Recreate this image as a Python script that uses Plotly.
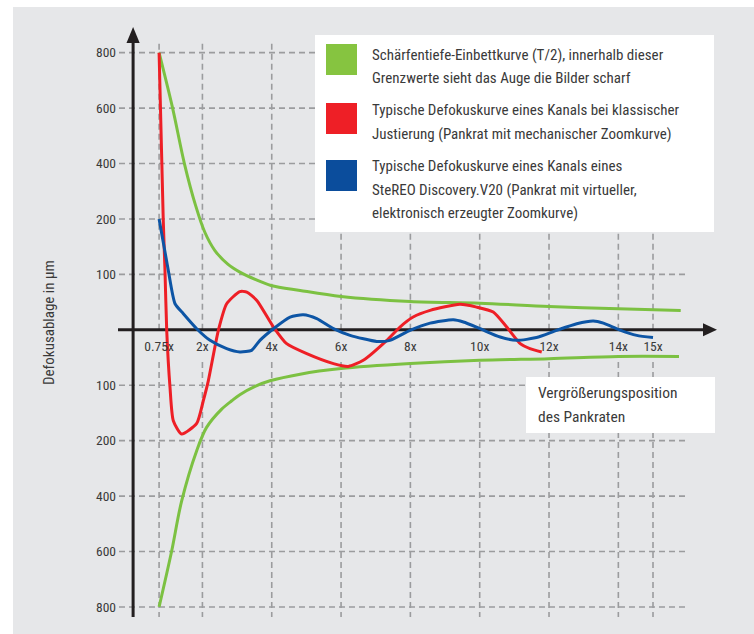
import numpy as np
import plotly.graph_objects as go

# ---- data -----------------------------------------------------------------
# magnification positions of the zoom body
x_ticks = [0.75, 2, 4, 6, 8, 10, 12, 14, 15]
x_tick_text = ["0.75x", "2x", "4x", "6x", "8x", "10x", "12x", "14x", "15x"]

# defocus tick values in µm (stepped scale, equal spacing between steps)
y_tick_um = [800, 600, 400, 200, 100, -100, -200, -400, -600, -800]
y_tick_text = [str(abs(v)) for v in y_tick_um]
y_steps_um = [0, 100, 200, 400, 600, 800]

# depth-of-field envelope (T/2), upper and lower branch
x_dof_upper = [0.75, 1.14, 1.48, 1.80, 2.07, 2.36, 2.74, 3.08, 3.52, 3.98, 4.82, 6.0, 8.0, 10.0, 12.0, 14.0, 15.8]
dof_upper = [800, 600, 400, 250, 176, 143, 118, 104, 91, 80, 71, 60, 51, 48, 42, 38, 35]
x_dof_lower = [0.75, 1.11, 1.40, 1.835, 2.12, 2.556, 2.846, 3.08, 3.52, 3.95, 4.82, 6.0, 8.0, 10.0, 12.0, 14.0, 15.75]
dof_lower = [-800, -600, -418, -236, -176, -143, -128, -117, -102, -92, -80, -70, -61, -55, -52, -48, -48]

# classic adjustment (mechanical zoom curve)
x_classic = [0.75, 0.87, 0.92, 0.97, 1.065, 1.16, 1.40, 1.835, 2.025, 2.17, 2.46, 2.70, 3.08, 3.28,
             3.57, 4.05, 4.43, 5.01, 5.78, 6.21, 6.64, 7.32, 7.70, 8.08, 8.57, 9.43, 9.91, 10.39,
             10.78, 11.17, 11.45, 11.79]
defocus_classic = [800, 198, 107, -1, -104, -164, -188, -169, -128, -92, -1, 47, 69, 68,
                   53, 5, -25, -43, -61, -66, -55, -19, 5, 23, 35, 46, 41, 32,
                   5, -25, -34, -40]

# SteREO Discovery.V20 (virtual, electronically generated zoom curve)
x_v20 = [0.75, 1.016, 1.21, 1.45, 1.835, 2.22, 2.70, 3.08, 3.42, 3.66, 4.05, 4.53, 4.91, 5.30,
         5.78, 6.26, 7.03, 7.41, 7.99, 8.57, 9.24, 9.53, 10.01, 10.59, 11.07, 11.64, 12.22,
         12.80, 13.28, 13.57, 14.03, 14.53, 15.0]
defocus_v20 = [200, 107, 47, 29, 2, -19, -34, -40, -37, -19, 2, 23, 27, 20,
               2, -10, -21, -19, -1, 12, 18, 14, 2, -13, -19, -14, -1,
               11, 16, 12, 0, -10, -14]

legend_entries = [
    ("#86c440", ["Schärfentiefe-Einbettkurve (T/2), innerhalb dieser",
                 "Grenzwerte sieht das Auge die Bilder scharf"]),
    ("#ee1f26", ["Typische Defokuskurve eines Kanals bei klassischer",
                 "Justierung (Pankrat mit mechanischer Zoomkurve)"]),
    ("#0b4d9c", ["Typische Defokuskurve eines Kanals eines",
                 "SteREO Discovery.V20 (Pankrat mit virtueller,",
                 "elektronisch erzeugter Zoomkurve)"]),
]

# ---- layout geometry --------------------------------------------------------
W, H = 754, 634
ML, MT = 13, 7
X_RANGE = [-3.465, 17.914]
Y_RANGE = [-5.488, 5.824]
BG = "#e6e7e9"
TXT = "#3a3a3a"
GRID = "#9b9c9e"
AXIS = "#231f20"
FONT = "Liberation Sans Narrow, Roboto Condensed, DejaVu Sans Condensed, Arial Narrow, sans-serif"


def to_axis(v):
    """Map µm onto the stepped defocus scale."""
    v = np.asarray(v, float)
    return np.sign(v) * np.interp(np.abs(v), y_steps_um, np.arange(len(y_steps_um)))


def px_x(px):
    return (px - ML) / (W - ML)


def px_y(py):
    return (H - py) / (H - MT)


def dx_px(px):
    return X_RANGE[0] + px_x(px) * (X_RANGE[1] - X_RANGE[0])


def dy_px(py):
    return Y_RANGE[0] + px_y(py) * (Y_RANGE[1] - Y_RANGE[0])


fig = go.Figure()

series = [
    (x_dof_upper, dof_upper, "#7cc142", 0.9),
    (x_dof_lower, dof_lower, "#7cc142", 0.9),
    (x_classic, defocus_classic, "#ee1f26", 0.6),
    (x_v20, defocus_v20, "#0d55a5", 0.6),
]
for xs, ys, col, sm in series:
    fig.add_trace(go.Scatter(
        x=xs, y=to_axis(ys), mode="lines",
        line=dict(color=col, width=3, shape="spline", smoothing=sm),
        showlegend=False, hoverinfo="skip"))

shapes = []
dash = dict(color=GRID, width=1.6, dash="6px,4px")

# vertical grid (interrupted under the magnification labels)
y_top_grid = dy_px(40)
y_gap = dy_px(362)
y_bot = dy_px(617)
for xv in x_ticks:
    shapes.append(dict(type="line", xref="x", yref="y", x0=xv, x1=xv, y0=0, y1=y_top_grid,
                       line=dash, layer="below"))
    shapes.append(dict(type="line", xref="x", yref="y", x0=xv, x1=xv, y0=y_gap, y1=y_bot,
                       line=dash, layer="below"))
# horizontal grid
for v in y_tick_um:
    k = float(to_axis(v))
    shapes.append(dict(type="line", xref="x", yref="y", x0=dx_px(119), x1=dx_px(686), y0=k, y1=k,
                       line=dash, layer="below"))

# white boxes for legend and axis caption (same layer as the grid, drawn after it)
shapes.append(dict(type="rect", xref="x", yref="y", x0=dx_px(315), x1=dx_px(714),
                   y0=dy_px(232), y1=dy_px(35), fillcolor="white", line=dict(width=0), layer="below"))
shapes.append(dict(type="rect", xref="x", yref="y", x0=dx_px(526), x1=dx_px(715),
                   y0=dy_px(433), y1=dy_px(377), fillcolor="white", line=dict(width=0), layer="below"))

# axes with arrow heads
shapes.append(dict(type="line", xref="x", yref="y", x0=0, x1=0, y0=y_bot, y1=dy_px(40),
                   line=dict(color=AXIS, width=3), layer="below"))
shapes.append(dict(type="path", xref="x", yref="y",
                   path=f"M {dx_px(126.5)},{dy_px(43)} L {dx_px(133.1)},{dy_px(27)} L {dx_px(139.7)},{dy_px(43)} Z",
                   fillcolor=AXIS, line=dict(width=0), layer="below"))
shapes.append(dict(type="line", xref="x", yref="y", x0=dx_px(118), x1=dx_px(705), y0=0, y1=0,
                   line=dict(color=AXIS, width=3), layer="below"))
shapes.append(dict(type="path", xref="x", yref="y",
                   path=f"M {dx_px(703)},{dy_px(323.3)} L {dx_px(717)},{dy_px(329.8)} L {dx_px(703)},{dy_px(336.3)} Z",
                   fillcolor=AXIS, line=dict(width=0), layer="below"))

# legend swatches and text
annotations = []
sw_tops = [44, 103, 160]
line_y = [[55, 78], [110, 134], [166, 190, 213]]
for (col, lines), top, ys in zip(legend_entries, sw_tops, line_y):
    shapes.append(dict(type="rect", xref="paper", yref="paper", x0=px_x(326), x1=px_x(357),
                       y0=px_y(top + 31), y1=px_y(top), fillcolor=col, line=dict(width=0)))
    for txt, yy in zip(lines, ys):
        annotations.append(dict(text=txt, xref="paper", yref="paper", x=px_x(370), y=px_y(yy),
                                xanchor="left", yanchor="middle", showarrow=False,
                                font=dict(family=FONT, size=15, color=TXT)))

# axis captions
annotations.append(dict(text="Vergrößerungsposition", xref="paper", yref="paper", x=px_x(536), y=px_y(393),
                        xanchor="left", yanchor="middle", showarrow=False,
                        font=dict(family=FONT, size=15.5, color=TXT)))
annotations.append(dict(text="des Pankraten", xref="paper", yref="paper", x=px_x(536), y=px_y(417),
                        xanchor="left", yanchor="middle", showarrow=False,
                        font=dict(family=FONT, size=15.5, color=TXT)))
annotations.append(dict(text="Defokusablage in µm", xref="paper", yref="paper", x=px_x(49), y=px_y(323),
                        xanchor="center", yanchor="middle", textangle=-90, showarrow=False,
                        font=dict(family=FONT, size=15, color=TXT)))

fig.update_layout(
    width=W, height=H,
    margin=dict(l=ML, r=0, t=MT, b=0, pad=0),
    paper_bgcolor="white", plot_bgcolor=BG,
    shapes=shapes, annotations=annotations,
    showlegend=False,
    xaxis=dict(range=X_RANGE, showgrid=False, zeroline=False, showline=False,
               tickvals=x_ticks, ticktext=x_tick_text, ticks="",
               anchor="free", position=px_y(329.8), ticklabelstandoff=7,
               tickfont=dict(family=FONT, size=13.5, color=TXT), fixedrange=True),
    yaxis=dict(range=Y_RANGE, showgrid=False, zeroline=False, showline=False,
               tickvals=[float(to_axis(v)) for v in y_tick_um], ticktext=y_tick_text, ticks="",
               anchor="free", position=px_x(116),
               tickfont=dict(family=FONT, size=13.5, color=TXT), fixedrange=True),
)

fig.write_html("out.html")
